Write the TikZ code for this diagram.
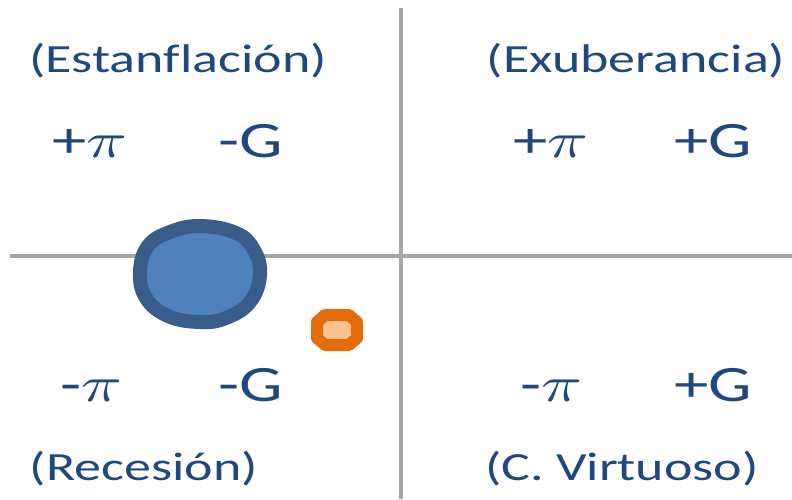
\documentclass[tikz,border=0pt]{standalone}
\usepackage{graphicx}
\usepackage{fontspec}
\setmainfont{Carlito}[Ligatures={NoCommon}]
\definecolor{txtblue}{RGB}{31,73,125}
\definecolor{axisgray}{RGB}{166,166,166}
\definecolor{blobfill}{RGB}{79,129,189}
\definecolor{blobline}{RGB}{56,93,138}
\definecolor{orfill}{RGB}{250,192,144}
\definecolor{orline}{RGB}{228,108,10}
\newcommand{\sxq}[1]{\scalebox{1.35}[1]{#1}}
\newcommand{\bigpi}{\scalebox{5}{\fontsize{10}{12}\selectfont$\pi$}}
\begin{document}
\begin{tikzpicture}[x=1pt,y=-1pt,
  axisline/.style={draw=axisgray,line width=4pt},
  quadlabel/.style={anchor=base,inner sep=0pt,text=txtblue,font=\fontsize{40}{48}\selectfont},
  signlabel/.style={anchor=base,inner sep=0pt,text=txtblue,font=\fontsize{51}{60}\selectfont}]
\useasboundingbox (0,0) rectangle (792,499);
% axes
\coordinate (vtop) at (401,8);
\coordinate (vbot) at (401,499);
\coordinate (hleft) at (10,256);
\coordinate (hright) at (792,256);
\draw[axisline] (vtop) -- (vbot);
\draw[axisline] (hleft) -- (hright);
% blob
\draw[fill=blobfill,draw=blobline,line width=14pt] plot[smooth cycle,tension=0.7] coordinates
 {(200,226) (236,233) (254,250) (260,275) (250,302) (226,318) (200,322) (168,316) (146,298) (140,272) (148,246) (170,232)};
% orange octagon
\draw[fill=orfill,draw=orline,line width=12pt,line join=round]
 (325,315) -- (349,315) -- (357,322) -- (357,338) -- (349,345) -- (325,345) -- (317,338) -- (317,322) -- cycle;
% quadrant names
\node[quadlabel] (estan) at (178,72) {\sxq{(Estanflación)}};
\node[quadlabel] (exub) at (636,72) {\sxq{(Exuberancia)}};
\node[quadlabel] (reces) at (144,480) {\sxq{(Recesión)}};
\node[quadlabel] (virt) at (622,480) {\sxq{(C. Virtuoso)}};
% signs
\node[signlabel] (tlpi) at (90,157) {\sxq{+\bigpi}};
\node[signlabel] (tlg) at (251,157) {\sxq{-G}};
\node[signlabel] (trpi) at (551,157) {\sxq{+\bigpi}};
\node[signlabel] (trg) at (713,157) {\sxq{+G}};
\node[signlabel] (blpi) at (91,401) {\sxq{-\bigpi}};
\node[signlabel] (blg) at (251,401) {\sxq{-G}};
\node[signlabel] (brpi) at (551,401) {\sxq{-\bigpi}};
\node[signlabel] (brg) at (713,401) {\sxq{+G}};
\end{tikzpicture}
\end{document}
